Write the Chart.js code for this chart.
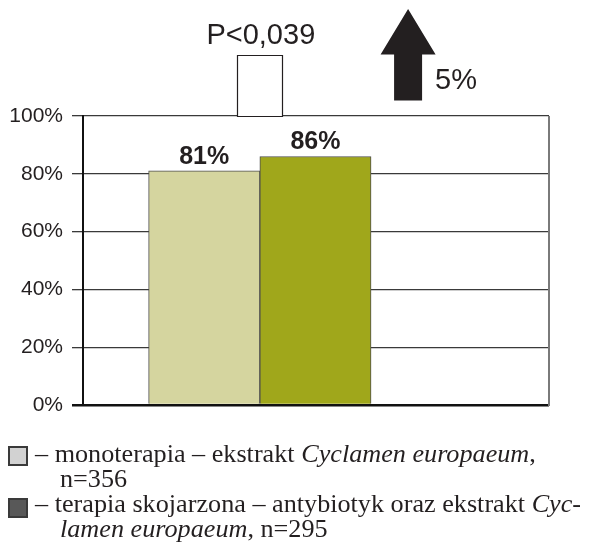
<!DOCTYPE html>
<html>
<head>
<meta charset="utf-8">
<script src="https://cdn.jsdelivr.net/npm/chart.js@4"></script>
<style>
  html,body{margin:0;padding:0;background:#fff;}
  #wrap{position:relative;width:592px;height:546px;}
  #legend{position:absolute;left:0;top:0;width:592px;height:546px;pointer-events:none;
    font-family:"Liberation Serif","Times New Roman",serif;font-size:26.2px;line-height:25px;color:#231f20;}
  .item{position:absolute;left:35px;width:556px;white-space:nowrap;}
  .txt{padding-left:25px;text-indent:-25px;}
  .sw{position:absolute;width:16px;height:16px;border:2px solid #3a3a3a;}
</style>
</head>
<body>
<div id="wrap">
  <canvas id="c"></canvas>
  <div id="legend"></div>
</div>
<script>
// ---- data ----
const categories = ['monoterapia', 'terapia skojarzona'];
const values = [81, 86];
const valueLabels = ['81%', '86%'];
const barColors = ['#d5d59f', '#a0a71b'];
const legendSwatch = ['#d2d2d2', '#585858'];
const legendLines = [
  ['– monoterapia – ekstrakt <i>Cyclamen europaeum</i>,', 'n=356'],
  ['– terapia skojarzona – antybiotyk oraz ekstrakt <i>Cyc-</i>', '<i>lamen europaeum</i>, n=295']
];
const yTickValues = [0, 20, 40, 60, 80, 100];
const yTickLabels = ['0%', '20%', '40%', '60%', '80%', '100%'];
const pValueText = 'P<0,039';
const increaseText = '5%';

// ---- legend (HTML text) ----
const legendEl = document.getElementById('legend');
const legendTops = [441, 491];
const swatchTops = [446, 498];
legendLines.forEach((lines, i) => {
  const sw = document.createElement('div');
  sw.className = 'sw';
  sw.style.left = '8px';
  sw.style.top = swatchTops[i] + 'px';
  sw.style.background = legendSwatch[i];
  legendEl.appendChild(sw);
  const it = document.createElement('div');
  it.className = 'item';
  it.style.top = legendTops[i] + 'px';
  it.innerHTML = '<div class="txt">' + lines.join('<br>') + '</div>';
  legendEl.appendChild(it);
});

// ---- decorations plugin ----
const deco = {
  id: 'deco',
  afterDatasetsDraw(chart) {
    const ctx = chart.ctx;
    ctx.save();
    ctx.fillStyle = '#231f20';
    ctx.font = 'bold 25px "Liberation Sans", Arial, sans-serif';
    ctx.textAlign = 'center';
    ctx.textBaseline = 'alphabetic';
    chart.data.datasets.forEach((ds, i) => {
      const el = chart.getDatasetMeta(i).data[0];
      ctx.fillText(valueLabels[i], el.x, el.y - 7);
    });
    ctx.restore();
  },
  afterDraw(chart) {
    const ctx = chart.ctx, ca = chart.chartArea;
    const xs = chart.scales.x, ys = chart.scales.y;
    ctx.save();
    // right frame border
    ctx.strokeStyle = '#7a7a7a';
    ctx.lineWidth = 2;
    ctx.beginPath();
    ctx.moveTo(ca.right, ca.top);
    ctx.lineTo(ca.right, ca.bottom + 1);
    ctx.stroke();
    // significance box between bars
    const bx = xs.getPixelForValue(1.5);
    const bTop = ys.getPixelForValue(121);
    ctx.strokeStyle = '#231f20';
    ctx.lineWidth = 1.2;
    ctx.fillStyle = '#fff';
    ctx.beginPath();
    ctx.rect(Math.round(bx - 23) + 0.5, Math.round(bTop) + 0.5, 45, Math.round(ca.top - bTop));
    ctx.fill();
    ctx.stroke();
    ctx.fillStyle = '#231f20';
    ctx.font = '29px "Liberation Sans", Arial, sans-serif';
    ctx.textAlign = 'center';
    ctx.fillText(pValueText, bx + 1, bTop - 11);
    // arrow
    const ax = xs.getPixelForValue(2.833);
    const tipY = ys.getPixelForValue(137);
    const headY = ys.getPixelForValue(121.3);
    const botY = ys.getPixelForValue(105.4);
    ctx.beginPath();
    ctx.moveTo(ax, tipY);
    ctx.lineTo(ax + 27.5, headY);
    ctx.lineTo(ax + 14, headY);
    ctx.lineTo(ax + 14, botY);
    ctx.lineTo(ax - 14, botY);
    ctx.lineTo(ax - 14, headY);
    ctx.lineTo(ax - 27.5, headY);
    ctx.closePath();
    ctx.fill();
    ctx.textAlign = 'left';
    ctx.fillText(increaseText, ax + 27, ys.getPixelForValue(109.3));
    ctx.restore();
  }
};

const datasets = categories.map((c, i) => ({
  label: c,
  data: [{x: i + 1, y: values[i]}],
  backgroundColor: barColors[i],
  borderColor: '#4d4d4d',
  borderWidth: 1,
  borderSkipped: 'bottom',
  barPercentage: 1,
  categoryPercentage: 1,
  grouped: false
}));

new Chart(document.getElementById('c'), {
  type: 'bar',
  data: { datasets },
  plugins: [deco],
  options: {
    responsive: true,
    maintainAspectRatio: false,
    animation: false,
    layout: { padding: { top: 116, right: 43, bottom: 141, left: 0 } },
    plugins: { legend: { display: false }, tooltip: { enabled: false } },
    scales: {
      x: {
        type: 'linear', min: -0.09, max: 4.1, offset: false, display: false,
        afterBuildTicks(s) { s.ticks = categories.map((c, i) => ({ value: i + 1 })); }
      },
      y: {
        min: 0, max: 100,
        afterBuildTicks(s) { s.ticks = yTickValues.map(v => ({ value: v })); },
        afterFit(s) { s.width = 83; },
        ticks: {
          callback: (v) => yTickLabels[yTickValues.indexOf(v)],
          font: { family: '"Liberation Sans", Arial, sans-serif', size: 21 },
          color: '#231f20',
          padding: 9
        },
        grid: {
          color: (c) => c.tick && c.tick.value === 0 ? '#111' : '#3a3a3a',
          lineWidth: (c) => c.tick && c.tick.value === 0 ? 2.5 : 1.3,
          tickLength: 11,
          drawTicks: true
        },
        border: { display: true, color: '#111', width: 2 }
      }
    }
  }
});
</script>
</body>
</html>
